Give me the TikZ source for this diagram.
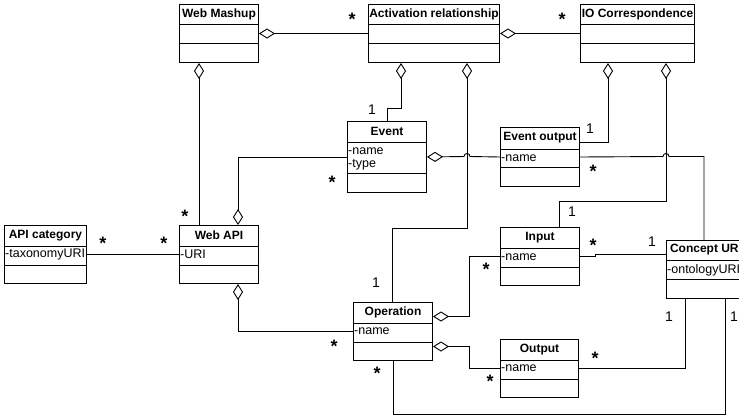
\documentclass[tikz,border=0pt]{standalone}
\usepackage{fontspec}
\setmainfont{Liberation Sans}
\usetikzlibrary{arrows.meta,calc}

\tikzset{
  classbox/.style={draw, line width=1pt, fill=white, inner sep=0pt, anchor=north west},
  classline/.style={line width=1pt},
  classtitle/.style={inner sep=0pt, font=\fontsize{12}{14}\selectfont\bfseries},
  attr/.style={inner sep=0pt, anchor=west, font=\fontsize{12.5}{14}\selectfont},
  link/.style={line width=0.9pt},
  agg/.style={link, {Diamond[fill=white, length=16pt, width=10pt, line width=0.9pt]}-},
  many/.style={inner sep=0pt, font=\fontsize{18}{18}\selectfont\bfseries},
  one/.style={inner sep=0pt, font=\fontsize{14}{16}\selectfont},
}

% class box: name, x, y, width, height, header height, second separator, title
\newcommand\umlclass[8]{%
  \node[classbox, minimum width=#4pt, minimum height=#5pt] (#1) at (#2,#3) {};
  \draw[classline] ([yshift=-#6pt]#1.north west) -- ([yshift=-#6pt]#1.north east);
  \draw[classline] ([yshift=-#7pt]#1.north west) -- ([yshift=-#7pt]#1.north east);
  \node[classtitle] (#1-title) at ($(#1.north)!0.5!([yshift=-#6pt]#1.north)$) {#8};
}

\begin{document}
\begin{tikzpicture}[x=1pt, y=-1pt]
\useasboundingbox (0,0) rectangle (739,418);
\clip (0,0) rectangle (739,418);

% classes
\umlclass{wm}{179}{4}{79}{58}{20}{39}{Web Mashup}
\umlclass{ar}{368}{4}{131}{58}{20}{39}{Activation relationship}
\umlclass{io}{580}{4}{114}{58}{20}{39}{IO Correspondence}
\umlclass{ev}{347}{121}{79}{71}{21}{52}{Event}
\umlclass{eo}{500}{127}{79}{59}{22}{40}{Event output}
\umlclass{ac}{4}{225}{82}{58}{21}{40}{API category}
\umlclass{wapi}{179}{225}{79}{58}{21}{40}{Web API}
\umlclass{in}{500}{227}{79}{58}{21}{40}{Input}
\umlclass{cu}{666}{240}{79}{58}{20}{39}{Concept URI}
\umlclass{op}{353}{302}{79}{58}{21}{40}{Operation}
\umlclass{out}{500}{339}{78}{58}{21}{40}{Output}

% attributes
\node[attr] (ev-name) at (348,151) {-name};
\node[attr] (ev-type) at (348,165) {-type};
\node[attr] (eo-name) at (501,158) {-name};
\node[attr] (ac-uri) at (5,254) {-taxonomyURI};
\node[attr] (wapi-uri) at (180,254) {-URI};
\node[attr] (in-name) at (501,257) {-name};
\node[attr] (cu-uri) at (667,270) {-ontologyURI};
\node[attr] (op-name) at (354,331) {-name};
\node[attr] (out-name) at (501,368) {-name};

% associations and aggregations
\draw[agg] (wm.east) -- (ar.west);
\draw[agg] (ar.east) -- (io.west);
\draw[agg] ([xshift=20pt]wm.south west) -- ([xshift=20pt]wapi.north west);
\draw[agg] ([xshift=33pt]ar.south west) -- ++(0,45) -| ([xshift=40pt]ev.north west);
\draw[agg] ([xshift=99pt]ar.south west) -- ++(0,165) -| ([xshift=39pt]op.north west);
\draw[agg] ([xshift=28pt]io.south west) |- ([yshift=14.5pt]eo.east);
\draw[agg] ([xshift=86pt]io.south west) -- ++(0,138) -| ([xshift=59pt]in.north west);
\draw[agg] (ev.east) -- (464,156.5) .. controls (464,152.5) and (470,152.5) .. (470,156.5) -- (eo.west);
\draw[link] (eo.east) -- (663,156.5) .. controls (663,152.5) and (669,152.5) .. (669,156.5)
  -| ([xshift=38pt]cu.north west);
\draw[agg] ([xshift=59pt]wapi.north west) |- (ev.west);
\draw[link] (ac.east) -- (wapi.west);
\draw[agg] ([xshift=59pt]wapi.south west) |- (op.west);
\draw[agg] ([yshift=15pt]op.east) -- ++(36,0) |- (in.west);
\draw[agg] ([yshift=-15pt]op.east) -- ++(36,0) |- (out.west);
\draw[link] (in.east) -- ++(15,0) -- ++(0,-2) -- ([yshift=15pt]cu.west);
\draw[link] (out.east) -| ([xshift=19pt]cu.south west);
\draw[link] (op.south) -- ++(0,53) -| ([xshift=59pt]cu.south west);

% multiplicities
\node[many] (m1) at (352,19) {*};
\node[many] (m2) at (562,19) {*};
\node[one]  (m3) at (372,110) {1};
\node[one]  (m4) at (590,129) {1};
\node[many] (m5) at (593,171) {*};
\node[many] (m6) at (332,182) {*};
\node[one]  (m7) at (572,212) {1};
\node[many] (m8) at (185,216) {*};
\node[many] (m9) at (103,243) {*};
\node[many] (m10) at (164,243) {*};
\node[many] (m11) at (593,245) {*};
\node[one]  (m12) at (652,242) {1};
\node[many] (m13) at (486,269) {*};
\node[one]  (m14) at (376,283) {1};
\node[one]  (m15) at (669,317) {1};
\node[one]  (m16) at (734,317) {1};
\node[many] (m17) at (334,346) {*};
\node[many] (m18) at (595,358) {*};
\node[many] (m19) at (377,373) {*};
\node[many] (m20) at (490,381) {*};
\end{tikzpicture}
\end{document}
